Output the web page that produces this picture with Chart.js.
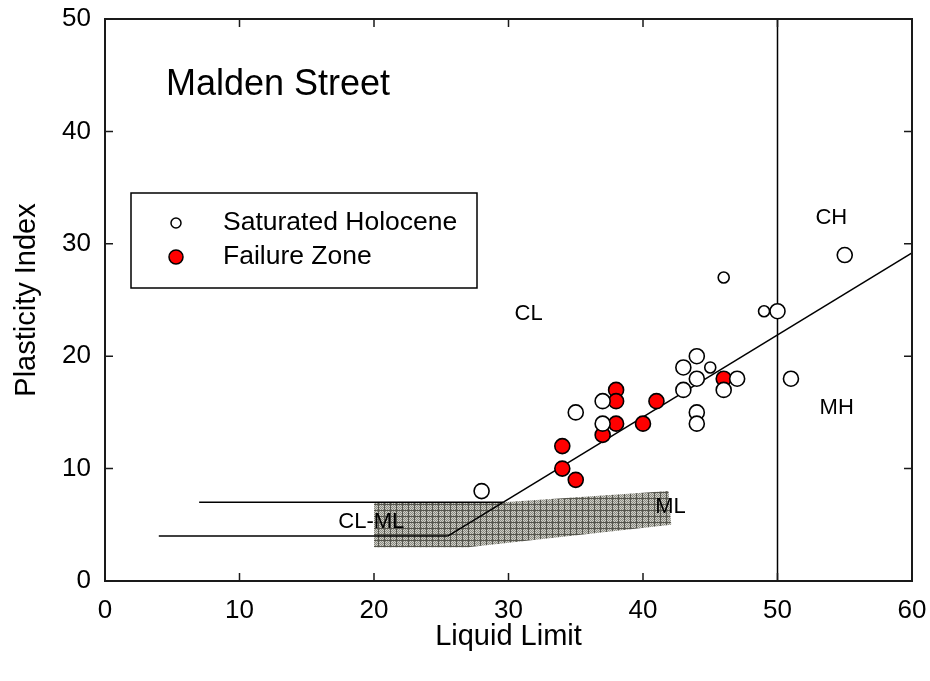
<!DOCTYPE html>
<html>
<head>
<meta charset="utf-8">
<script src="https://cdn.jsdelivr.net/npm/chart.js@4.4.1/dist/chart.umd.min.js"></script>
<style>
html, body { margin: 0; padding: 0; background: #fff; }
#chart { display: block; }
</style>
</head>
<body>
<canvas id="chart" width="930" height="681"></canvas>
<script>
// values
const holoceneLL = [28, 35, 37, 37, 43, 43, 44, 44, 45, 44, 44, 46, 47, 46, 49, 50, 51, 55];
const holocenePI = [8, 15, 16, 14, 19, 17, 20, 18, 19, 15, 14, 17, 18, 27, 24, 24, 18, 29];
const failureLL = [34, 34, 35, 37, 38, 38, 38, 40, 41, 46];
const failurePI = [12, 10, 9, 13, 17, 16, 14, 14, 16, 18];

// chart lines (A-line, CL-ML band limits, LL = 50)
const aLineLL = [25.48, 60];
const aLinePI = [4, 29.2];
const lowBandLL = [4, 25.48];
const lowBandPI = [4, 4];
const highBandLL = [7, 29.59];
const highBandPI = [7, 7];
const llFiftyLL = [50, 50];
const llFiftyPI = [0, 50];

// shaded ML zone outline
const mlZoneLL = [20, 29.6, 41.9, 42.1, 27, 20, 20];
const mlZonePI = [7, 7, 8, 5, 3, 3, 7];

const xTicks = [0, 10, 20, 30, 40, 50, 60];
const yTicks = [0, 10, 20, 30, 40, 50];

// region labels [text, LL, PI]
const zoneLabels = [
    ["CL", 31.5, 23.8],
    ["CH", 54.0, 32.3],
    ["MH", 54.4, 15.4],
    ["CL-ML", 19.8, 5.27],
    ["ML", 42.05, 6.6]
];

const toPoints = (xs, ys) => xs.map((x, i) => ({ x: x, y: ys[i] }));

// small crosshatch texture for the ML zone
function makeHatch() {
    const c = document.createElement("canvas");
    c.width = 6;
    c.height = 6;
    const g = c.getContext("2d");
    g.fillStyle = "#cfcfc7";
    g.fillRect(0, 0, 6, 6);
    g.fillStyle = "#8a8a82";
    for (let i = 0; i < 6; i++) {
        for (let j = 0; j < 6; j++) {
            if ((i + j) % 2 === 0) g.fillRect(i, j, 1, 1);
        }
    }
    g.fillStyle = "#55554d";
    g.fillRect(0, 0, 6, 1);
    g.fillRect(0, 0, 1, 6);
    return g.createPattern(c, "repeat");
}

const FONT = "Arial, 'Liberation Sans', sans-serif";

const smallPoints = [8, 13, 14];

const decorPlugin = {
    id: "decor",
    afterDatasetsDraw(chart) {
        const { ctx, chartArea: a, scales } = chart;
        const xs = scales.x, ys = scales.y;
        ctx.save();

        // zone labels
        ctx.fillStyle = "#000";
        ctx.font = "22px " + FONT;
        ctx.textAlign = "center";
        ctx.textBaseline = "middle";
        zoneLabels.forEach(([t, lx, ly]) => {
            ctx.fillText(t, xs.getPixelForValue(lx), ys.getPixelForValue(ly));
        });

        // frame
        ctx.strokeStyle = "#1a1a1a";
        ctx.lineWidth = 2;
        ctx.strokeRect(a.left, a.top, a.right - a.left, a.bottom - a.top);

        // inward ticks on all sides
        ctx.lineWidth = 1.5;
        ctx.beginPath();
        xTicks.forEach(v => {
            const px = xs.getPixelForValue(v);
            ctx.moveTo(px, a.bottom);
            ctx.lineTo(px, a.bottom - 8);
            ctx.moveTo(px, a.top);
            ctx.lineTo(px, a.top + 8);
        });
        yTicks.forEach(v => {
            const py = ys.getPixelForValue(v);
            ctx.moveTo(a.left, py);
            ctx.lineTo(a.left + 8, py);
            ctx.moveTo(a.right, py);
            ctx.lineTo(a.right - 8, py);
        });
        ctx.stroke();

        // title
        ctx.textAlign = "left";
        ctx.font = "36px " + FONT;
        ctx.fillText("Malden Street", a.left + 61, a.top + 66);

        // legend box
        const lx = a.left + 26, ly = a.top + 174;
        ctx.lineWidth = 1.5;
        ctx.strokeStyle = "#000";
        ctx.strokeRect(lx, ly, 346, 95);
        const items = [
            [chart.data.datasets[0], 5, 30],
            [chart.data.datasets[1], 7, 64]
        ];
        ctx.font = "26.5px " + FONT;
        items.forEach(([ds, r, dy]) => {
            ctx.beginPath();
            ctx.arc(lx + 45, ly + dy, r, 0, Math.PI * 2);
            ctx.fillStyle = ds.backgroundColor;
            ctx.fill();
            ctx.lineWidth = 1.5;
            ctx.stroke();
            ctx.fillStyle = "#000";
            ctx.fillText(ds.label, lx + 92, ly + dy);
        });
        ctx.restore();
    }
};

const lineStyle = {
    showLine: true,
    borderColor: "#000",
    borderWidth: 1.5,
    pointRadius: 0,
    fill: false
};

const chart = new Chart(document.getElementById("chart"), {
    type: "scatter",
    data: {
        datasets: [
            {
                label: "Saturated Holocene",
                data: toPoints(holoceneLL, holocenePI),
                backgroundColor: "#ffffff",
                borderColor: "#000",
                borderWidth: 1.6,
                pointRadius: holoceneLL.map((_, i) => smallPoints.includes(i) ? 5.5 : 7.5)
            },
            {
                label: "Failure Zone",
                data: toPoints(failureLL, failurePI),
                backgroundColor: "#ff0000",
                borderColor: "#000",
                borderWidth: 1.6,
                pointRadius: 7.5
            },
            { label: "A-line", data: toPoints(aLineLL, aLinePI), ...lineStyle },
            { label: "PI 4", data: toPoints(lowBandLL, lowBandPI), ...lineStyle },
            { label: "PI 7", data: toPoints(highBandLL, highBandPI), ...lineStyle },
            { label: "LL 50", data: toPoints(llFiftyLL, llFiftyPI), ...lineStyle },
            {
                label: "ML zone",
                data: toPoints(mlZoneLL, mlZonePI),
                showLine: true,
                borderWidth: 0,
                borderColor: "rgba(0,0,0,0)",
                backgroundColor: makeHatch(),
                pointRadius: 0,
                fill: "shape"
            }
        ]
    },
    options: {
        responsive: false,
        animation: false,
        devicePixelRatio: 1,
        layout: { padding: { left: 0, right: 18, top: 19, bottom: 0 } },
        plugins: {
            legend: { display: false },
            tooltip: { enabled: false }
        },
        scales: {
            x: {
                type: "linear",
                min: 0,
                max: 60,
                afterBuildTicks: s => { s.ticks = xTicks.map(v => ({ value: v })); },
                afterFit: s => {
                    s.height = 100;
                    s.paddingLeft = 0;
                    s.paddingRight = 0;
                },
                grid: { display: false, drawTicks: false },
                border: { display: false },
                ticks: { font: { size: 26, family: FONT }, color: "#000", padding: 14 },
                title: {
                    display: true,
                    text: "Liquid Limit",
                    font: { size: 29, family: FONT },
                    color: "#000",
                    padding: { top: 0, bottom: 27 }
                }
            },
            y: {
                type: "linear",
                min: 0,
                max: 50,
                afterBuildTicks: s => { s.ticks = yTicks.map(v => ({ value: v })); },
                afterFit: s => {
                    s.width = 105;
                    s.paddingTop = 0;
                    s.paddingBottom = 0;
                },
                grid: { display: false, drawTicks: false },
                border: { display: false },
                ticks: { font: { size: 26, family: FONT }, color: "#000", padding: 14 },
                title: {
                    display: true,
                    text: "Plasticity Index",
                    font: { size: 29, family: FONT },
                    color: "#000",
                    padding: { top: 10, bottom: 0 }
                }
            }
        }
    },
    plugins: [decorPlugin]
});
</script>
</body>
</html>
